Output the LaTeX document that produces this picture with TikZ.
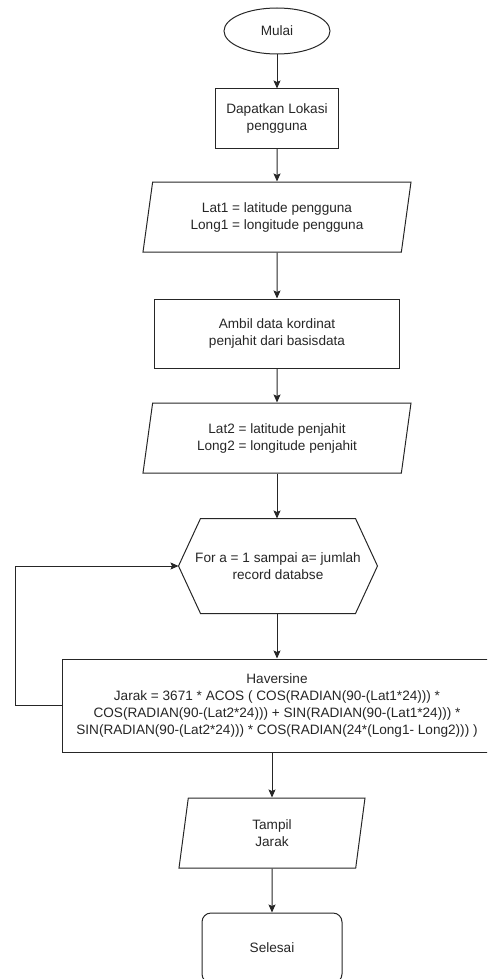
\documentclass[tikz,border=0pt]{standalone}
\usepackage{fontspec}
\setmainfont{Liberation Sans}
\usetikzlibrary{shapes.geometric,arrows.meta}

\begin{document}
\begin{tikzpicture}[x=1pt,y=-1pt,line width=1pt]
			\tikzstyle{every node}+=[inner sep=0pt,align=center,text=black!85,font=\fontsize{13.6}{17}\selectfont]
			\tikzstyle{flowline}=[draw=black!85,-{Stealth[length=8pt,width=7pt,inset=1.5pt]}]
			\tikzstyle{terminal}=[draw=black!85,ellipse,minimum width=106pt,minimum height=46pt]
			\tikzstyle{process}=[draw=black!85,rectangle]
			\tikzstyle{inout}=[draw=black!85,trapezium,trapezium left angle=72,trapezium right angle=108,trapezium stretches body]
			\tikzstyle{loopbox}=[rectangle,minimum width=198pt,minimum height=94pt]
			\tikzstyle{endbox}=[draw=black!85,rectangle,rounded corners=9pt,minimum width=140pt,minimum height=70pt]
			\clip (0,0) rectangle (487,979);
			\node [terminal] (mulai) at (277,31) {Mulai};
			\node [process,minimum width=123pt,minimum height=59pt] (lokasi) at (277,118.5) {Dapatkan Lokasi\\pengguna};
			\node [inout,minimum width=268pt,minimum height=70pt] (pengguna) at (277,217) {Lat1 = latitude pengguna\\Long1 = longitude pengguna};
			\node [process,minimum width=245pt,minimum height=69pt] (ambil) at (277,333.5) {Ambil data kordinat\\penjahit dari basisdata};
			\node [inout,minimum width=268pt,minimum height=70pt] (penjahit) at (277,438) {Lat2 = latitude penjahit\\Long2 = longitude penjahit};
			\node [loopbox] (ulang) at (278,566) {For a = 1 sampai a= jumlah\\record databse};
			\draw [black!85] ([xshift=22pt]ulang.north west) -- ([xshift=-22pt]ulang.north east) -- (ulang.east)
				-- ([xshift=-22pt]ulang.south east) -- ([xshift=22pt]ulang.south west) -- (ulang.west) -- cycle;
			\node [process,minimum width=430pt,minimum height=93pt] (haversine) at (277,705.5) {Haversine\\Jarak = 3671 * ACOS ( COS(RADIAN(90-(Lat1*24))) *\\COS(RADIAN(90-(Lat2*24))) + SIN(RADIAN(90-(Lat1*24))) *\\SIN(RADIAN(90-(Lat2*24))) * COS(RADIAN(24*(Long1- Long2))) )};
			\node [inout,minimum width=186pt,minimum height=70pt,trapezium left angle=71,trapezium right angle=109] (tampil) at (272,833) {Tampil\\Jarak};
			\node [endbox] (selesai) at (272,948) {Selesai};
			\draw [flowline] (mulai) -- (lokasi);
			\draw [flowline] (lokasi) -- (pengguna);
			\draw [flowline] (pengguna) -- (ambil);
			\draw [flowline] (ambil) -- (penjahit);
			\draw [flowline] (penjahit.south) -- (penjahit.south |- ulang.north);
			\draw [flowline] (ulang.south -| haversine.north) -- (haversine.north);
			\draw [flowline] (haversine.west) -- ++(-46,0) |- (ulang.west);
			\draw [flowline] (tampil.north |- haversine.south) -- (tampil.north);
			\draw [flowline] (tampil) -- (selesai);
\end{tikzpicture}
\end{document}
